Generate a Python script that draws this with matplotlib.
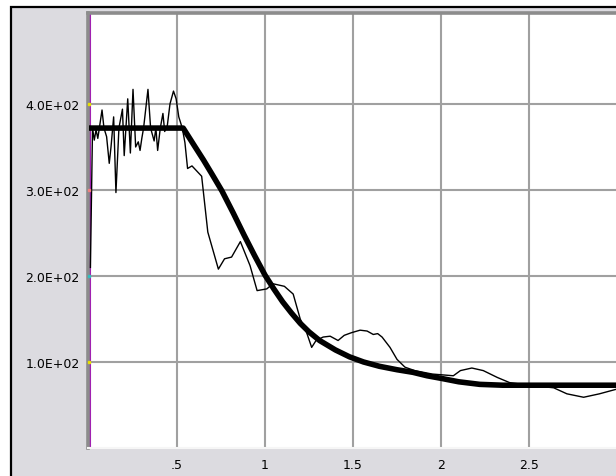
import matplotlib
matplotlib.use("Agg")
import matplotlib.pyplot as plt
from matplotlib.patches import Rectangle

# ---- data ----
thick_x = [0.0, 0.535, 0.60, 0.65, 0.70, 0.755, 0.82, 0.88, 0.94, 1.0, 1.05, 1.1, 1.15, 1.2,
           1.25, 1.31, 1.4, 1.48, 1.56, 1.65, 1.75, 1.84, 1.92, 2.0, 2.1, 2.22, 2.35, 2.5, 3.0]
thick_y = [372, 372, 351, 335, 318, 299, 273, 248, 224, 201, 185, 170, 157, 145,
           135, 125, 114, 106, 100, 95, 91, 88, 84, 81, 77, 74, 73, 73, 73]

thin_x = [0.008, 0.02, 0.03, 0.04, 0.05, 0.074, 0.085, 0.10, 0.115, 0.125, 0.14, 0.153, 0.17,
          0.19, 0.20, 0.22, 0.235, 0.25, 0.265, 0.28, 0.29, 0.30, 0.31, 0.335, 0.35, 0.37,
          0.38, 0.39, 0.405, 0.42, 0.43, 0.445, 0.46, 0.48, 0.495, 0.51, 0.53, 0.545, 0.56,
          0.585, 0.64, 0.675, 0.735, 0.77, 0.81, 0.86, 0.915, 0.955, 1.01, 1.045, 1.11, 1.16,
          1.2, 1.235, 1.265, 1.29, 1.33, 1.37, 1.415, 1.45, 1.49, 1.54, 1.58, 1.615, 1.64,
          1.665, 1.71, 1.75, 1.795, 1.85, 1.95, 2.07, 2.11, 2.175, 2.24, 2.32, 2.39, 2.5,
          2.64, 2.715, 2.81, 2.90, 2.99]
thin_y = [210, 372, 358, 370, 360, 393, 372, 362, 331, 350, 385, 297, 372,
          394, 340, 406, 343, 417, 350, 356, 346, 360, 372, 417, 372, 357,
          372, 346, 372, 389, 368, 375, 400, 415, 406, 385, 372, 355, 325,
          328, 316, 251, 208, 220, 222, 240, 212, 183, 185, 191, 188, 179,
          150, 135, 117, 125, 129, 130, 125, 131, 134, 137, 136, 132, 133,
          129, 117, 103, 94, 90, 86, 84, 90, 93, 90, 82, 76, 73,
          70, 63, 59, 63, 68]

axis_marks_y = [400, 300, 200, 100]
axis_marks_c = ["#e8e000", "#f08080", "#30c0c0", "#e8e000"]

x_ticks = [0.5, 1.0, 1.5, 2.0, 2.5]
x_labels = [".5", "1", "1.5", "2", "2.5"]
y_ticks = [100, 200, 300, 400]
y_labels = ["1.0E+02", "2.0E+02", "3.0E+02", "4.0E+02"]

W, H = 616, 477
fig = plt.figure(figsize=(W / 100, H / 100), dpi=100, facecolor="white")

# outer gray panel with black border
panel = Rectangle((11 / W, -0.05), 1.1, (H - 8) / H + 0.05, transform=fig.transFigure,
                  facecolor="#dcdbe0", edgecolor="black", linewidth=1.6, zorder=-10)
fig.patches.append(panel)

ax = fig.add_axes([88 / W, (H - 449) / H, (W - 88) / W, (449 - 14) / H], zorder=5)
ax.set_facecolor("white")
ax.set_xlim(-0.0057, 2.994)
ax.set_ylim(0, 505.8)

ax.set_xticks(x_ticks)
ax.set_xticklabels(x_labels)
ax.set_yticks(y_ticks)
ax.set_yticklabels(y_labels)
ax.tick_params(length=0, labelsize=9, colors="black")
ax.tick_params(axis="y", pad=6)
ax.tick_params(axis="x", pad=7)

ax.grid(True, color="#a0a0a0", linewidth=1.5, zorder=1)
ax.set_axisbelow(True)

for side in ["left", "top"]:
    ax.spines[side].set_color("#8c8c8c")
    ax.spines[side].set_linewidth(2.6)
ax.spines["bottom"].set_color("#f6f6f6")
ax.spines["bottom"].set_linewidth(1.5)
ax.spines["right"].set_visible(False)

ax.axvline(0.006, color="#a020b0", linewidth=1.5, zorder=2)

ax.plot(thin_x, thin_y, color="black", linewidth=1.0, zorder=3)
ax.plot(thick_x, thick_y, color="black", linewidth=4.0, solid_capstyle="butt",
        solid_joinstyle="round", zorder=4)

for yv, c in zip(axis_marks_y, axis_marks_c):
    ax.plot([0.0], [yv], marker="s", markersize=1.6, color=c, zorder=5, clip_on=False)

fig.savefig("out.png", dpi=100, facecolor=fig.get_facecolor())
